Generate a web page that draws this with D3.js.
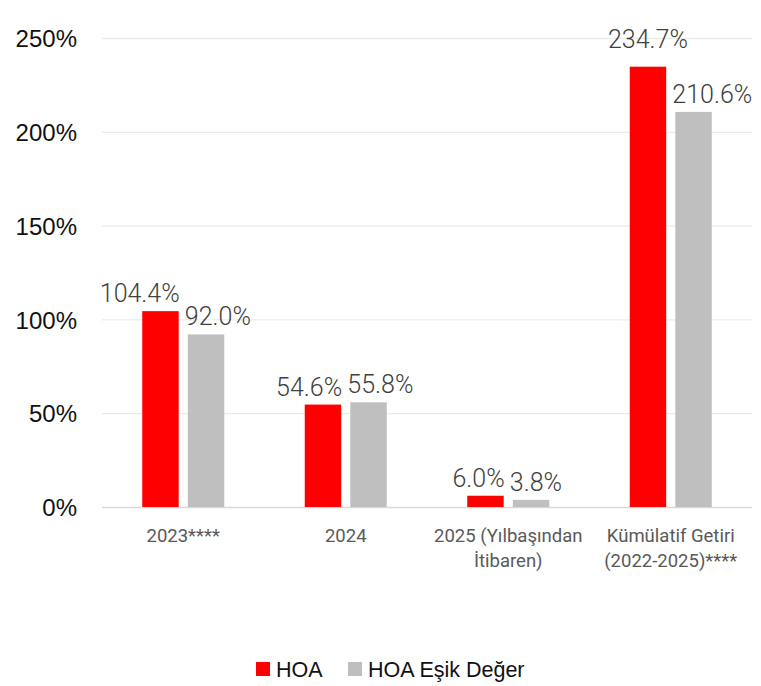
<!DOCTYPE html>
<html>
<head>
<meta charset="utf-8">
<script src="https://cdn.jsdelivr.net/npm/d3@7"></script>
<style>
  html, body { margin: 0; padding: 0; background: #fff; }
  svg { display: block; }
</style>
</head>
<body>
<svg id="chart" width="761" height="686"></svg>
<script>
const categories = [
  ["2023****"],
  ["2024"],
  ["2025 (Yılbaşından", "İtibaren)"],
  ["Kümülatif Getiri", "(2022-2025)****"]
];
const categoryKeys = ["2023", "2024", "2025", "Kumulatif"];
const seriesNames = ["HOA", "HOA Eşik Değer"];
const hoaValues = [104.4, 54.6, 6.0, 234.7];
const esikValues = [92.0, 55.8, 3.8, 210.6];
const yTicks = [0, 50, 100, 150, 200, 250];
const colors = ["#ff0000", "#bfbfbf"];

(function() {
const svg = d3.select("#chart");
const mLeft = 102, mRight = 752, mTop = 38, mBottom = 507;

const x0 = d3.scaleBand().domain(categoryKeys).range([mLeft, mRight]).paddingInner(0).paddingOuter(0);
const bw = x0.bandwidth();
const pairW = 82;
const x1 = d3.scaleBand().domain(seriesNames)
  .range([(bw - pairW) / 2, (bw + pairW) / 2]).paddingInner(0.2).paddingOuter(0);
const y = d3.scaleLinear().domain([0, 250]).range([mBottom, mTop]);

// gridlines
const grid = d3.axisLeft(y).tickValues(yTicks).tickSize(-(mRight - mLeft)).tickFormat("");
const gG = svg.append("g").attr("transform", `translate(${mLeft},0)`).call(grid);
gG.select(".domain").remove();
gG.selectAll(".tick line").attr("stroke", (d) => d === 0 ? "#d9d9d9" : "#ebebeb").attr("stroke-width", 1.3);

// y tick labels
const yAxis = d3.axisLeft(y).tickValues(yTicks).tickSize(0).tickPadding(0).tickFormat(d => d + "%");
const yG = svg.append("g").attr("transform", `translate(77,0)`).call(yAxis);
yG.select(".domain").remove();
yG.selectAll("text")
  .attr("font-family", "'Liberation Sans', Arial, sans-serif")
  .attr("font-size", 24)
  .attr("fill", "#111")
  .attr("dy", "0.36em");

const rows = categoryKeys.map((k, i) => ({ key: k, vals: [hoaValues[i], esikValues[i]] }));

const groups = svg.append("g").selectAll("g").data(rows).join("g")
  .attr("transform", d => `translate(${x0(d.key)},0)`);

groups.selectAll("rect").data(d => d.vals.map((v, j) => ({ v, s: seriesNames[j], j })))
  .join("rect")
  .attr("x", d => x1(d.s))
  .attr("width", x1.bandwidth())
  .attr("y", d => y(d.v))
  .attr("height", d => y(0) - y(d.v))
  .attr("fill", d => colors[d.j]);

// value labels
groups.each(function(row) {
  const g = d3.select(this);
  const [a, b] = row.vals;
  const close = Math.abs(a - b) < 15;
  row.vals.forEach((v, j) => {
    const s = seriesNames[j];
    let xPos, anchor, gap = 9;
    if (j === 0) {
      if (close) { xPos = x1(s) + x1.bandwidth() + 1; anchor = "end"; }
      else { xPos = x1(s) + x1.bandwidth() / 2; anchor = "middle"; gap = 19; }
    } else {
      xPos = x1(s) - 3; anchor = "start";
    }
    g.append("text")
      .attr("x", xPos)
      .attr("y", y(v) - gap)
      .attr("text-anchor", anchor)
      .attr("font-family", "Roboto, sans-serif")
      .attr("font-weight", 300)
      .attr("font-size", 25)
      .attr("fill", "#404040")
      .text(v.toFixed(1) + "%");
  });
});

// category labels
const xAxis = d3.axisBottom(x0).tickSize(0).tickFormat("");
const xG = svg.append("g").attr("transform", `translate(0,${mBottom})`).call(xAxis);
xG.select(".domain").remove();
categoryKeys.forEach((k, i) => {
  const cx = x0(k) + bw / 2;
  const t = svg.append("text")
    .attr("x", cx)
    .attr("y", 542)
    .attr("text-anchor", "middle")
    .attr("font-family", "Roboto, sans-serif")
    .attr("font-size", 18.5)
    .attr("fill", "#595959");
  categories[i].forEach((line, li) => {
    t.append("tspan").attr("x", cx).attr("dy", li === 0 ? 0 : 25).text(line);
  });
});

// legend
const legend = svg.append("g");
const legItems = [
  { name: seriesNames[0], color: colors[0], x: 256 },
  { name: seriesNames[1], color: colors[1], x: 348 }
];
legItems.forEach(it => {
  legend.append("rect").attr("x", it.x).attr("y", 662).attr("width", 14).attr("height", 14).attr("fill", it.color);
  legend.append("text").attr("x", it.x + 20).attr("y", 677)
    .attr("font-family", "'Liberation Sans', Arial, sans-serif")
    .attr("font-size", 21.5)
    .attr("fill", "#111")
    .text(it.name);
});
})();
</script>
</body>
</html>
